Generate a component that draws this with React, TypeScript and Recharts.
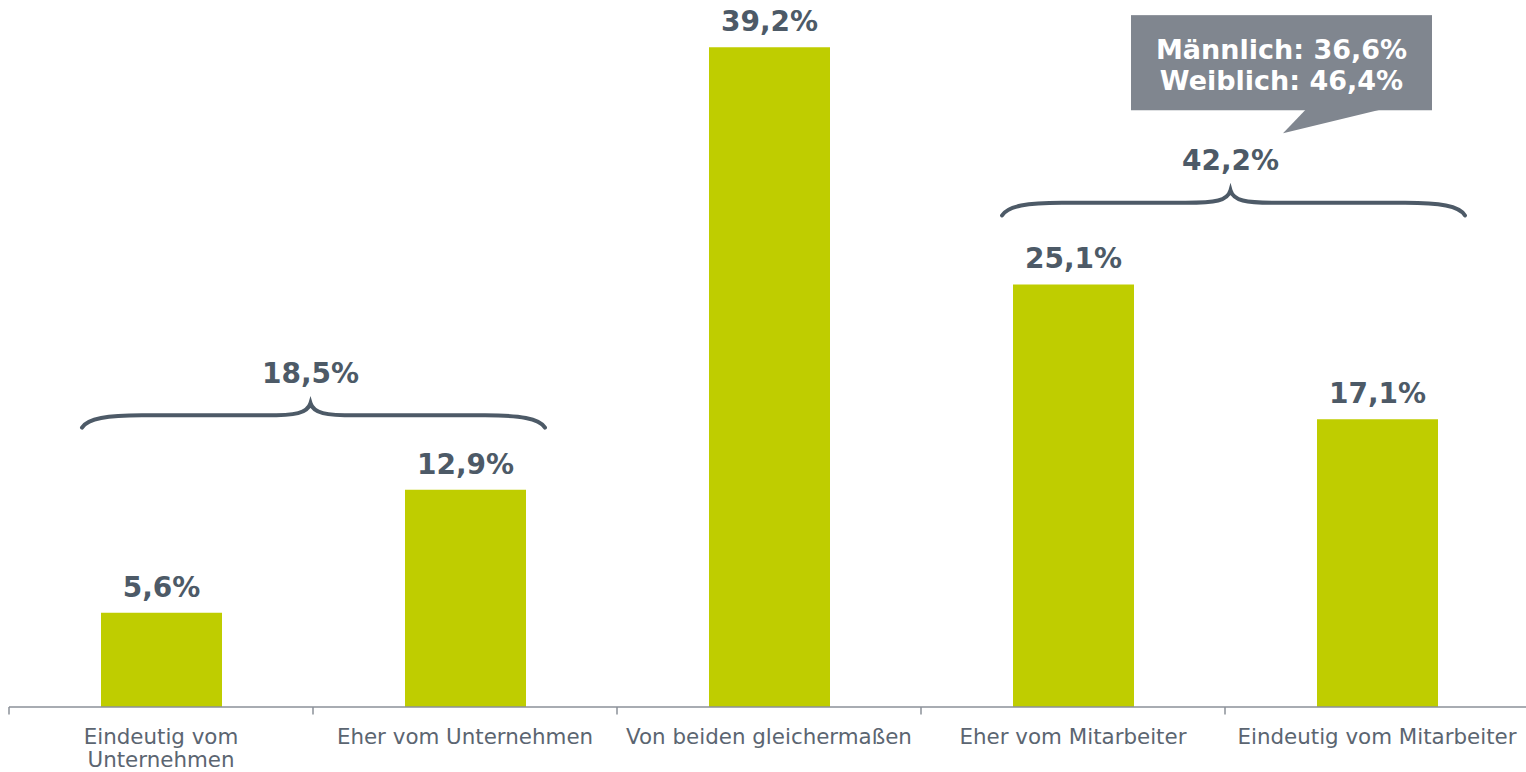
import React from 'react';
import { BarChart, Bar, XAxis, YAxis, LabelList, ReferenceArea, ReferenceLine } from 'recharts';

// Kategorien und Anteile (in %)
const categories = [
    'Eindeutig vom Unternehmen',
    'Eher vom Unternehmen',
    'Von beiden gleichermaßen',
    'Eher vom Mitarbeiter',
    'Eindeutig vom Mitarbeiter',
];
const shares = [5.6, 12.9, 39.2, 25.1, 17.1];

// Zeilenumbruch der Achsenbeschriftungen
const tickLines = [
    ['Eindeutig vom', 'Unternehmen'],
    ['Eher vom Unternehmen'],
    ['Von beiden gleichermaßen'],
    ['Eher vom Mitarbeiter'],
    ['Eindeutig vom Mitarbeiter'],
];

// Klammern über zusammengefasste Kategorien
const braceFrom = [categories[0], categories[3]];
const braceTo = [categories[1], categories[4]];
const braceTotals = [18.5, 42.2];

// Sprechblase
const calloutLines = ['Männlich: 36,6%', 'Weiblich: 46,4%'];

const FONT = '"DejaVu Sans", Verdana, sans-serif';
const BAR = '#bfcd00';
const DARK = '#4d5a67';
const AXIS_TEXT = '#5b6571';
const AXIS_LINE = '#8b9199';
const CALLOUT = '#80868f';

// Lage der Klammern (y in Datenwerten, Einzug in px vom Bandrand)
const braceY = [[16.6, 18.05], [29.2, 30.7]];
const braceInset = [[73, 72], [81, 64]];

const fmt = (v: number) => v.toFixed(1).replace('.', ',') + '%';

const data = categories.map((name, i) => ({ name, value: shares[i] }));

const CategoryTick = (props: any) => {
    const { x, y, payload } = props;
    const idx = categories.indexOf(payload.value);
    const lines = idx >= 0 ? tickLines[idx] : [String(payload.value)];
    return (
        <text x={x} y={y} textAnchor="middle" fill={AXIS_TEXT} fontFamily={FONT} fontSize={21.4}>
            {lines.map((l, k) => (
                <tspan key={k} x={x} dy={k === 0 ? 14 : 23}>{l}</tspan>
            ))}
        </text>
    );
};

const braceShape = (i: number) => (p: any) => {
    const x0 = p.x + braceInset[i][0];
    const x1 = p.x + p.width - braceInset[i][1];
    const yTip = p.y;
    const yEnd = p.y + p.height;
    const yLine = yTip + p.height * 0.5;
    const cx = (x0 + x1) / 2 - 3;
    const d = [
        `M ${x0} ${yEnd}`,
        `C ${x0 + 6} ${yLine + 3} ${x0 + 25} ${yLine} ${x0 + 60} ${yLine}`,
        `L ${cx - 45} ${yLine}`,
        `C ${cx - 15} ${yLine} ${cx - 3} ${yLine - 2} ${cx} ${yTip}`,
        `C ${cx + 3} ${yLine - 2} ${cx + 15} ${yLine} ${cx + 45} ${yLine}`,
        `L ${x1 - 60} ${yLine}`,
        `C ${x1 - 25} ${yLine} ${x1 - 6} ${yLine + 3} ${x1} ${yEnd}`,
    ].join(' ');
    return (
        <g>
            <path d={d} fill="none" stroke={DARK} strokeWidth={4} strokeLinecap="round" />
            <text x={cx} y={yTip - 20} textAnchor="middle" fill={DARK} fontFamily={FONT} fontWeight="bold" fontSize={28}>
                {fmt(braceTotals[i])}
            </text>
        </g>
    );
};

const calloutShape = (p: any) => {
    const left = p.x + 210;
    const right = p.x + p.width - 97;
    const top = p.y;
    const bottom = p.y + p.height;
    const mid = (left + right) / 2;
    return (
        <g>
            <rect x={left} y={top} width={right - left} height={bottom - top} fill={CALLOUT} />
            <polygon
                points={`${left + 175},${bottom - 1} ${left + 251},${bottom - 1} ${left + 152},${bottom + 23}`}
                fill={CALLOUT}
            />
            {calloutLines.map((line, k) => (
                <text key={k} x={mid} y={top + 44 + k * 31} textAnchor="middle" fill="#ffffff" fontFamily={FONT} fontWeight="bold" fontSize={27}>
                    {line}
                </text>
            ))}
        </g>
    );
};

export default function App() {
    return (
        <div style={{ position: 'absolute', left: 0, top: 0, width: 1526, height: 772, overflow: 'hidden', background: '#fff' }}>
            <BarChart width={1530} height={772} data={data} margin={{ top: 0, right: 1, left: 9, bottom: 0 }}>
                <XAxis
                    dataKey="name"
                    height={65}
                    interval={0}
                    axisLine={{ stroke: AXIS_LINE, strokeWidth: 1.5 }}
                    tickLine={false}
                    tickSize={6}
                    tickMargin={17}
                    tick={<CategoryTick />}
                />
                <YAxis hide domain={[0, 42]} />
                {categories.map((c) => (
                    <ReferenceLine
                        key={'t' + c}
                        segment={[{ x: c, y: 0 }, { x: c, y: -0.45 }]}
                        position="start"
                        stroke={AXIS_LINE}
                        strokeWidth={1.5}
                        ifOverflow="visible"
                    />
                ))}
                <Bar dataKey="value" fill={BAR} barSize={121} isAnimationActive={false}>
                    <LabelList
                        dataKey="value"
                        position="top"
                        offset={16}
                        formatter={(v: any) => fmt(Number(v))}
                        fill={DARK}
                        style={{ fontFamily: FONT, fontWeight: 'bold', fontSize: 28, fill: DARK }}
                    />
                </Bar>
                {braceFrom.map((from, i) => (
                    <ReferenceArea
                        key={'b' + i}
                        x1={from}
                        x2={braceTo[i]}
                        y1={braceY[i][0]}
                        y2={braceY[i][1]}
                        ifOverflow="visible"
                        shape={braceShape(i)}
                    />
                ))}
                <ReferenceArea
                    x1={categories[3]}
                    x2={categories[4]}
                    y1={35.45}
                    y2={41.1}
                    ifOverflow="visible"
                    shape={calloutShape}
                />
            </BarChart>
        </div>
    );
}
